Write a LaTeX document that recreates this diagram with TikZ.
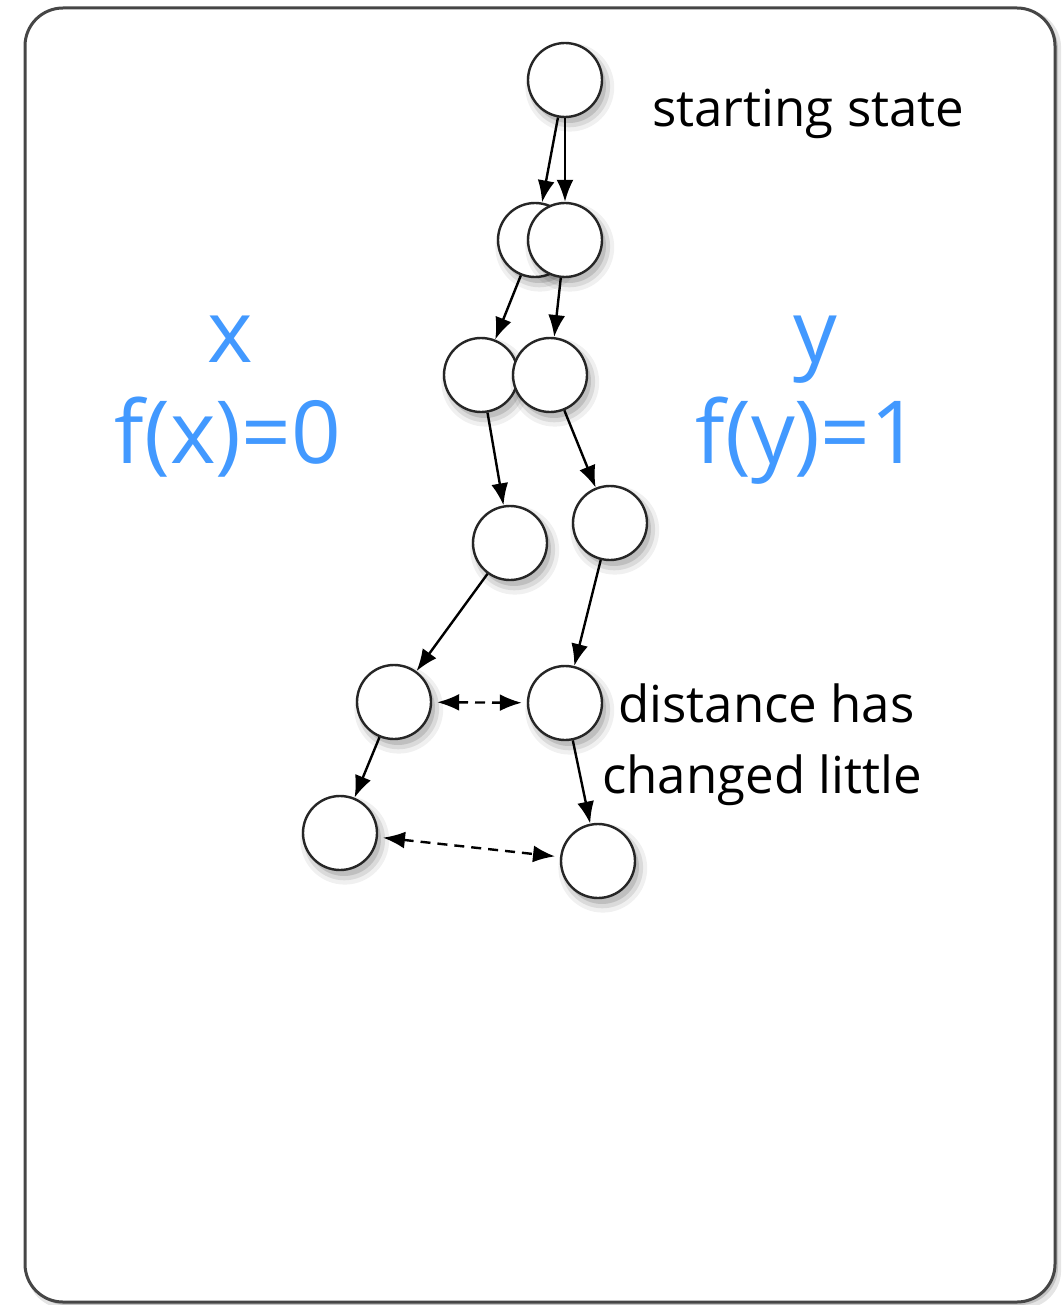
\documentclass[tikz,border=0pt]{standalone}
\usepackage{fontspec}
\setmainfont{Open Sans}
\usetikzlibrary{arrows.meta,shadows}
\definecolor{keyblue}{RGB}{66,153,255}
\definecolor{framegray}{RGB}{70,70,70}

\tikzset{
  statenode/.style={circle,draw=black!85,line width=2.4pt,fill=white,
    minimum size=74pt,inner sep=0pt,
    general shadow={fill=black,opacity=.06,shadow scale=1.2,shadow xshift=4pt,shadow yshift=-6pt},
    general shadow={fill=black,opacity=.09,shadow scale=1.1,shadow xshift=4pt,shadow yshift=-6pt},
    general shadow={fill=black,opacity=.12,shadow scale=1.0,shadow xshift=4pt,shadow yshift=-6pt}},
  flow/.style={->,line width=2.4pt},
  gap/.style={<->,line width=2.4pt,dash pattern=on 10pt off 7pt,shorten <=5pt,shorten >=5pt},
  note/.style={inner sep=0pt,font=\fontsize{51}{60}\selectfont},
  keylbl/.style={inner sep=0pt,anchor=base,text=keyblue,font=\fontsize{87}{100}\selectfont}
}

\begin{document}
\begin{tikzpicture}[x=1pt,y=-1pt,>={Latex[length=22pt,width=17pt]}]
 \useasboundingbox (0,0) rectangle (1063,1305);
 % frame
 \draw[framegray,line width=3pt,fill=white,rounded corners=38pt,
   general shadow={fill=black,opacity=.10,shadow xshift=4pt,shadow yshift=-4pt,shadow scale=1.004},
   general shadow={fill=black,opacity=.15,shadow xshift=3pt,shadow yshift=-3pt}]
   (25,8) rectangle (1055,1302);
 % states
 \node[statenode] (s0) at (565,80) {};
 \node[statenode] (a1) at (535,240) {};
 \node[statenode] (b1) at (565,240) {};
 \node[statenode] (a2) at (481,375) {};
 \node[statenode] (b2) at (550,375) {};
 \node[statenode] (a3) at (510,543) {};
 \node[statenode] (b3) at (610,523) {};
 \node[statenode] (a4) at (394,702) {};
 \node[statenode] (b4) at (565,703) {};
 \node[statenode] (a5) at (340,833) {};
 \node[statenode] (b5) at (598,861) {};
 % trajectories
 \foreach \u/\v in {s0/a1,s0/b1,a1/a2,b1/b2,a2/a3,b2/b3,a3/a4,b3/b4,a4/a5,b4/b5}
   \draw[flow] (\u) -- (\v);
 \draw[gap] (a4) -- (b4);
 \draw[gap] (a5) -- (b5);
 % labels
 \node[note,anchor=base west] (startlbl) at (652,127) {starting state};
 \node[note,anchor=base west] (distlbl) at (618,722) {distance has};
 \node[note,anchor=base west] (chglbl) at (602,793) {changed little};
 \node[keylbl] (xlbl) at (230,362) {x};
 \node[keylbl] (fxlbl) at (228,463) {f(x)=0};
 \node[keylbl] (ylbl) at (815,362) {y};
 \node[keylbl] (fylbl) at (808,463) {f(y)=1};
\end{tikzpicture}
\end{document}
